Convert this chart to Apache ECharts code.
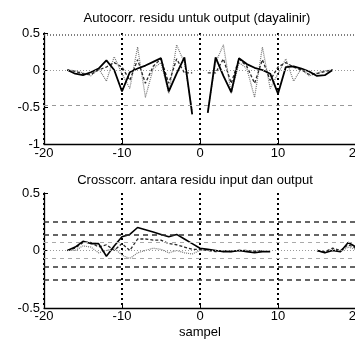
<!DOCTYPE html>
<html>
<head>
<meta charset="utf-8">
<script src="https://cdn.jsdelivr.net/npm/echarts@6/dist/echarts.min.js"></script>
<style>
  html, body { margin: 0; padding: 0; background: #fff; }
  #chart { width: 355px; height: 343px; }
</style>
</head>
<body>
<div id="chart"></div>
<script>
// autocorrelation of output residual, lags -17..17 (0 is not drawn)
const acfLags = [-17, -16, -15, -14, -13, -12, -11, -10, -9, -8, -7, -6, -5, -4, -3, -2, -1, 0,
  1, 2, 3, 4, 5, 6, 7, 8, 9, 10, 11, 12, 13, 14, 15, 16, 17];
const acfSolid = [0, -0.05, -0.07, -0.03, 0.02, 0.13, 0.0, -0.29, -0.03, 0.02, 0.06, 0.11, 0.16, -0.29, -0.05, 0.17, -0.6, null,
  -0.58, 0.17, -0.08, -0.3, 0.16, 0.08, 0.03, 0.0, -0.05, -0.32, 0.04, 0.05, 0.02, -0.02, -0.08, -0.07, 0];
const acfDashed = [0, -0.02, -0.05, -0.06, 0.0, 0.04, 0.1, 0.04, -0.14, 0.14, -0.18, 0.05, 0.15, -0.18, 0.15, -0.04, -0.04, null,
  -0.04, -0.04, 0.15, -0.18, 0.15, 0.05, -0.18, 0.14, -0.14, 0.04, 0.1, 0.04, 0.0, -0.06, -0.05, -0.02, 0];
const acfDotted = [0, -0.01, -0.04, -0.08, 0.02, -0.15, 0.18, -0.05, -0.25, 0.31, -0.37, 0.02, 0.1, -0.32, 0.34, 0.1, -0.55, null,
  -0.55, 0.1, 0.34, -0.32, 0.1, 0.02, -0.37, 0.31, -0.25, -0.05, 0.15, -0.15, 0.02, -0.08, -0.04, -0.01, 0];
const acfBands = [0.48, -0.48];

// cross-correlation input/output residual, lags -17..20
const ccfLags = [-17, -16, -15, -14, -13, -12, -11, -10, -9, -8, -7, -6, -5, -4, -3, -2, -1, 0,
  1, 2, 3, 4, 5, 6, 7, 8, 9, 10, 11, 12, 13, 14, 15, 16, 17, 18, 19, 20];
const ccfSolid = [0, 0.03, 0.08, 0.06, 0.06, -0.05, 0.04, 0.12, 0.14, 0.2, 0.18, 0.16, 0.14, 0.12, 0.14, 0.1, 0.06, 0.02,
  0.01, 0.0, -0.01, -0.01, 0.0, -0.01, -0.02, -0.01, -0.01, null, null, null, null, null, 0, -0.02, 0.0, -0.01, 0.07, 0.03];
const ccfDashed = [0, 0.02, 0.07, 0.07, 0.03, 0.05, 0.0, 0.06, 0.0, 0.1, 0.1, 0.09, 0.09, 0.06, 0.05, 0.03, 0.01, 0.01,
  0.0, -0.01, 0.0, -0.01, 0.0, 0.0, -0.01, 0.0, null, null, null, null, null, null, 0, -0.01, 0.02, 0.0, 0.05, 0.02];
const ccfDotted = [0, 0.0, 0.04, 0.03, -0.02, 0.0, 0.02, -0.04, -0.07, -0.02, 0.0, 0.02, 0.01, -0.02, 0.0, -0.02, -0.03, 0.0,
  0.0, 0.0, -0.01, 0.0, 0.0, 0.0, 0.0, 0.0, null, null, null, null, null, null, 0, -0.02, 0.01, -0.01, 0.03, 0.01];
const ccfBandsOuter = [0.25, 0.14, -0.14, -0.25];
const ccfBandsInner = [0.07, -0.07];

const xTicks = { min: -20, max: 20, interval: 10 };
const topTitle = "Autocorr. residu untuk output (dayalinir)";
const bottomTitle = "Crosscorr. antara residu input dan output";
const xName = "sampel";

const font = "'Liberation Sans', Arial, sans-serif";
const pairs = (lags, values) => lags.map((x, i) => [x, values[i] == null ? "-" : values[i]]);

function xAxisFor(gridIndex, margin, name) {
  return {
    gridIndex,
    type: "value",
    ...xTicks,
    name,
    nameLocation: "middle",
    nameGap: 18,
    nameTextStyle: { color: "#000", fontSize: 13, fontFamily: font },
    axisLine: { onZero: false, lineStyle: { color: "#000", width: 1.3 } },
    axisTick: { inside: true, length: 4, lineStyle: { color: "#000" } },
    axisLabel: { color: "#000", fontSize: 13, fontFamily: font, margin },
    splitLine: { show: true, lineStyle: { color: "#000", width: 2, type: [2, 3] } },
  };
}

function yAxisFor(gridIndex, min, max) {
  return {
    gridIndex,
    type: "value",
    min,
    max,
    interval: 0.5,
    axisLine: { show: true, onZero: false, lineStyle: { color: "#000", width: 1.3 } },
    axisTick: { inside: true, length: 4, lineStyle: { color: "#000" } },
    axisLabel: { color: "#000", fontSize: 13, fontFamily: font, margin: 4 },
    splitLine: { show: false },
  };
}

function lineSeries(axis, data, style) {
  return {
    type: "line",
    xAxisIndex: axis,
    yAxisIndex: axis,
    data,
    symbol: "none",
    silent: true,
    animation: false,
    connectNulls: false,
    lineStyle: style,
    z: 3,
  };
}

function bandLines(axis, lines) {
  return {
    type: "line",
    xAxisIndex: axis,
    yAxisIndex: axis,
    data: [],
    silent: true,
    animation: false,
    z: 1,
    markLine: {
      silent: true,
      symbol: "none",
      animation: false,
      label: { show: false },
      data: lines,
    },
  };
}

const chart = echarts.init(document.getElementById("chart"), undefined, { renderer: "canvas" });
chart.setOption({
  backgroundColor: "#fff",
  animation: false,
  grid: [
    { left: 44, top: 33, width: 312, height: 111, outerBoundsMode: "none", containLabel: false },
    { left: 44, top: 193, width: 312, height: 115, outerBoundsMode: "none", containLabel: false },
  ],
  graphic: [
    { type: "text", x: 197, y: 18, style: { text: topTitle, font: `13px ${font}`, fill: "#000", align: "center", verticalAlign: "middle", textAlign: "center", textVerticalAlign: "middle" } },
    { type: "text", x: 195, y: 180, style: { text: bottomTitle, font: `13px ${font}`, fill: "#000", align: "center", verticalAlign: "middle", textAlign: "center", textVerticalAlign: "middle" } },
  ],
  xAxis: [xAxisFor(0, 3, ""), xAxisFor(1, 2, xName)],
  yAxis: [yAxisFor(0, -1, 0.5), yAxisFor(1, -0.5, 0.5)],
  series: [
    bandLines(0, [
      { yAxis: 0, lineStyle: { color: "#999", width: 1, type: [1, 2] } },
      ...acfBands.map((v) => ({ yAxis: v, lineStyle: { color: v > 0 ? "#555" : "#999", width: v > 0 ? 1.5 : 1, type: v > 0 ? [1, 2] : [4, 4] } })),
    ]),
    lineSeries(0, pairs(acfLags, acfDotted), { color: "#777", width: 1.2, type: [1, 1] }),
    lineSeries(0, pairs(acfLags, acfDashed), { color: "#2a2a2a", width: 1.3, type: [3, 2] }),
    lineSeries(0, pairs(acfLags, acfSolid), { color: "#000", width: 1.8 }),

    bandLines(1, [
      { yAxis: 0, lineStyle: { color: "#999", width: 1, type: [1, 2] } },
      ...ccfBandsOuter.map((v) => ({ yAxis: v, lineStyle: { color: "#333", width: 1.5, type: [5, 4] } })),
      ...ccfBandsInner.map((v) => ({ yAxis: v, lineStyle: { color: "#aaa", width: 1, type: [4, 4] } })),
    ]),
    lineSeries(1, pairs(ccfLags, ccfDotted), { color: "#777", width: 1.2, type: [1, 1] }),
    lineSeries(1, pairs(ccfLags, ccfDashed), { color: "#2a2a2a", width: 1.3, type: [3, 2] }),
    lineSeries(1, pairs(ccfLags, ccfSolid), { color: "#000", width: 1.6 }),
  ],
});
</script>
</body>
</html>
